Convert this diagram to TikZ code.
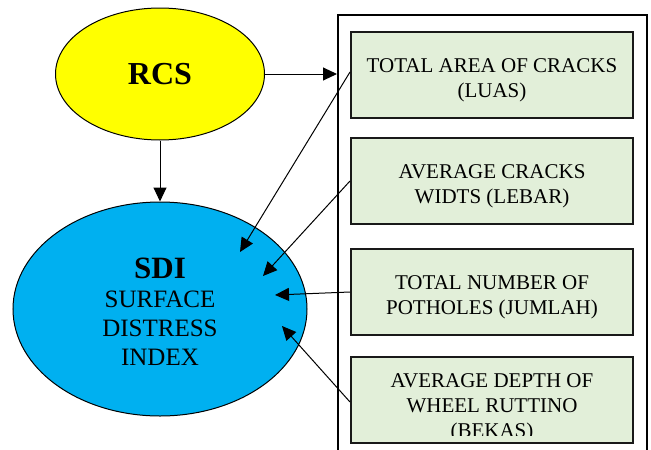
\documentclass[tikz,border=0pt]{standalone}
\usepackage{fontspec}
\setmainfont{Liberation Serif}
\usetikzlibrary{shapes.geometric,arrows.meta}
\definecolor{rcsyellow}{HTML}{FFFF00}
\definecolor{sdiblue}{HTML}{00B0F0}
\definecolor{boxgreen}{HTML}{E2EFD9}
\newcommand\liftup[1]{\rule{0pt}{#1}}
\tikzset{
  factor/.style={draw=black!90, line width=2pt, fill=boxgreen, minimum width=282pt, minimum height=86pt, inner sep=0pt, align=center, font=\fontsize{21}{25}\selectfont},
  oval/.style={draw=black, line width=1pt, ellipse, inner sep=0pt, align=center},
  conn/.style={line width=1pt, -{Triangle[length=14pt,width=13pt]}}
}
\begin{document}
\begin{tikzpicture}[x=1pt,y=-1pt]
\useasboundingbox (0,0) rectangle (651,450);
\fill[white] (0,0) rectangle (651,450);
% container
\node[draw, line width=2pt, minimum width=309pt, minimum height=455pt, inner sep=0pt] (cont) at (492.5,242.5) {};
% boxes
\node[factor] (b1) at (492,75) {\liftup{24pt}TOTAL AREA OF CRACKS\\(LUAS)};
\node[factor] (b2) at (492,181) {\liftup{24pt}AVERAGE CRACKS\\WIDTS (LEBAR)};
\node[factor] (b3) at (492,292) {\liftup{24pt}TOTAL NUMBER OF\\POTHOLES (JUMLAH)};
\node[factor] (b4) at (492,400) {};
\begin{scope}
\clip (352,358) rectangle (632,435.5);
\node[align=center, inner sep=0pt, font=\fontsize{21}{25}\selectfont] (b4t) at (492,408) {AVERAGE DEPTH OF\\WHEEL RUTTINO\\(BEKAS)};
\end{scope}
% ellipses
\node[oval, fill=rcsyellow, minimum width=209pt, minimum height=132pt, font=\fontsize{32}{32}\selectfont\bfseries] (rcs) at (160,74) {RCS};
\node[oval, fill=sdiblue, minimum width=294pt, minimum height=214pt, font=\fontsize{25}{29}\selectfont] (sdi) at (160,309)
  {{\fontsize{31}{31}\selectfont\bfseries\liftup{26pt}SDI}\\SURFACE\\DISTRESS\\INDEX};
% arrow tips inside SDI
\coordinate (t1) at (240,252);
\coordinate (t2) at (263,276);
\coordinate (t3) at (275,295);
\coordinate (t4) at (282,326);
% connectors
\draw[conn] (rcs.east) -- (rcs.east -| cont.west);
\draw[conn] (rcs.south) -- (sdi.north);
\draw[conn] ([yshift=3pt]b1.west) -- (t1);
\draw[conn] (b2.west) -- (t2);
\draw[conn] (b3.west) -- (t3);
\draw[conn] ([yshift=-2pt]b4.west) -- (t4);
\end{tikzpicture}
\end{document}
